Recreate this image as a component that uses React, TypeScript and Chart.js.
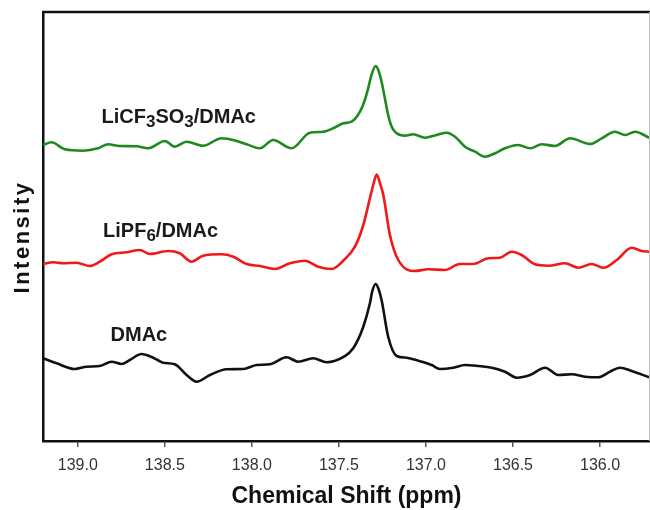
import React, { useEffect, useRef } from 'react';
import { Chart, registerables } from 'chart.js';

Chart.register(...registerables);

// ---- Data (chemical shift in ppm, intensity in arbitrary units) ----
const dmacPpm = [139.199, 139.122, 139.017, 138.95, 138.874, 138.806, 138.749, 138.701, 138.634, 138.567, 138.51, 138.443, 138.375, 138.318, 138.241, 138.145, 138.05, 137.973, 137.897, 137.801, 137.734, 137.648, 137.571, 137.471, 137.418, 137.36, 137.322, 137.309, 137.289, 137.274, 137.255, 137.217, 137.168, 137.111, 137.044, 136.967, 136.92, 136.843, 136.776, 136.699, 136.622, 136.546, 136.479, 136.402, 136.316, 136.24, 136.163, 136.086, 136.01, 135.943, 135.885, 135.818, 135.718];
const dmacInt = [82.7, 77.7, 72, 74.3, 75, 79.3, 77, 81, 87, 83.3, 78.3, 76.7, 66, 59.3, 66, 71.7, 72, 76, 76.7, 83.7, 79.3, 82.7, 78.7, 84.3, 92.7, 114.3, 137.7, 149.3, 157, 152.7, 141, 104.3, 85, 83.3, 80.3, 76, 72, 73.3, 76, 75, 73.3, 69.3, 63.3, 66, 73.3, 66, 66.7, 64.3, 63.7, 69.3, 73.3, 70, 63.7];

const lipf6Ppm = [139.199, 139.142, 139.084, 139.007, 138.931, 138.874, 138.806, 138.72, 138.644, 138.586, 138.481, 138.414, 138.347, 138.28, 138.174, 138.107, 138.03, 137.954, 137.868, 137.782, 137.695, 137.619, 137.542, 137.471, 137.408, 137.36, 137.322, 137.303, 137.283, 137.264, 137.245, 137.207, 137.159, 137.063, 136.987, 136.891, 136.805, 136.728, 136.642, 136.575, 136.507, 136.45, 136.374, 136.297, 136.201, 136.125, 136.048, 135.981, 135.904, 135.818, 135.76, 135.718];
const lipf6Int = [177, 178.7, 177.7, 178.3, 175, 179.3, 186.7, 188.7, 191, 187, 190, 187.7, 179.3, 185.3, 186.7, 184.3, 177, 175, 172, 177.7, 180.3, 174.3, 172, 181, 194.3, 216, 242.7, 256, 266.5, 257.7, 246, 206, 181, 170, 171.7, 171, 177, 177, 182.7, 183.3, 189.3, 186, 176.7, 175.3, 177.7, 173.3, 177, 173.3, 181, 193.3, 190, 189.3];

const licfPpm = [139.199, 139.151, 139.075, 138.97, 138.883, 138.826, 138.759, 138.663, 138.596, 138.5, 138.443, 138.375, 138.28, 138.174, 138.088, 138.03, 137.954, 137.878, 137.772, 137.667, 137.59, 137.533, 137.475, 137.427, 137.379, 137.351, 137.332, 137.313, 137.289, 137.274, 137.255, 137.236, 137.217, 137.197, 137.168, 137.121, 137.073, 137.006, 136.939, 136.881, 136.833, 136.776, 136.718, 136.661, 136.603, 136.546, 136.47, 136.402, 136.335, 136.259, 136.172, 136.057, 135.99, 135.914, 135.856, 135.799, 135.718];
const licfInt = [296, 298.7, 291.7, 290.3, 292.7, 296.7, 295, 294.7, 292.7, 300, 294.3, 299.3, 295.3, 302.7, 300, 296.7, 292.7, 301, 292.7, 308.3, 309.3, 312.7, 317.7, 319.3, 329.3, 341, 352.7, 366, 375, 371, 359.3, 342.7, 326, 314.3, 307.7, 305.3, 306.7, 303.3, 306, 308.3, 304.3, 294.3, 289.3, 284.3, 287.7, 292.7, 296, 292.7, 296.7, 295, 302.7, 297, 302.7, 309.3, 306, 309.3, 303.3];

const seriesNames = ['DMAc', 'LiPF6/DMAc', 'LiCF3SO3/DMAc'];
const seriesColors = ['#111111', '#f01818', '#1e8a1e'];

// Curve labels ("_" marks a subscript digit), anchored at (ppm, intensity)
const labelTexts = ['LiCF_3SO_3/DMAc', 'LiPF_6/DMAc', 'DMAc'];
const labelPpm = [138.864, 138.855, 138.812];
const labelInt = [318, 204.3, 100.3];

const xTickValues = [139.0, 138.5, 138.0, 137.5, 137.0, 136.5, 136.0];
const xMin = 135.713;
const xMax = 139.2;
const yMin = 0;
const yMax = 429;

const FONT = '"Liberation Sans", Arial, Helvetica, sans-serif';

const toXY = (xs: number[], ys: number[]) => xs.map((v, i) => ({ x: v, y: ys[i] }));

const decorPlugin = {
  id: 'decor',
  afterDatasetsDraw(chart: any) {
    const { ctx, scales } = chart;
    const xs = scales.x;
    const ys = scales.y;
    ctx.save();
    ctx.fillStyle = '#1a1a1a';
    ctx.textBaseline = 'alphabetic';
    ctx.textAlign = 'left';
    labelTexts.forEach((txt, i) => {
      let px = xs.getPixelForValue(labelPpm[i]);
      const py = ys.getPixelForValue(labelInt[i]);
      let j = 0;
      while (j < txt.length) {
        if (txt[j] === '_') {
          const ch = txt[j + 1];
          ctx.font = `bold 17px ${FONT}`;
          ctx.fillText(ch, px, py + 4);
          px += ctx.measureText(ch).width;
          j += 2;
        } else {
          let k = j;
          while (k < txt.length && txt[k] !== '_') k++;
          const part = txt.slice(j, k);
          ctx.font = `bold 20px ${FONT}`;
          ctx.fillText(part, px, py);
          px += ctx.measureText(part).width;
          j = k;
        }
      }
    });
    ctx.restore();
  },
  afterDraw(chart: any) {
    const { ctx, chartArea } = chart;
    ctx.save();
    // top frame line
    ctx.strokeStyle = '#111';
    ctx.lineWidth = 2.5;
    ctx.beginPath();
    ctx.moveTo(chartArea.left - 1, chartArea.top);
    ctx.lineTo(chartArea.right, chartArea.top);
    ctx.stroke();
    // faint right edge
    ctx.strokeStyle = '#bbbbbb';
    ctx.lineWidth = 1;
    ctx.beginPath();
    ctx.moveTo(chartArea.right - 0.5, chartArea.top);
    ctx.lineTo(chartArea.right - 0.5, chartArea.bottom);
    ctx.stroke();
    // y-axis title
    ctx.translate(23, 237);
    ctx.rotate(-Math.PI / 2);
    ctx.fillStyle = '#111';
    ctx.font = `bold 22px ${FONT}`;
    (ctx as any).letterSpacing = '2.5px';
    ctx.textAlign = 'center';
    ctx.textBaseline = 'middle';
    ctx.fillText('Intensity', 0, 0);
    ctx.restore();
  },
};

export default function App() {
  const canvasRef = useRef<HTMLCanvasElement | null>(null);

  useEffect(() => {
    if (!canvasRef.current) return;
    const chart = new Chart(canvasRef.current, {
      type: 'line',
      data: {
        datasets: [
          { label: seriesNames[0], data: toXY(dmacPpm, dmacInt), borderColor: seriesColors[0] },
          { label: seriesNames[1], data: toXY(lipf6Ppm, lipf6Int), borderColor: seriesColors[1] },
          { label: seriesNames[2], data: toXY(licfPpm, licfInt), borderColor: seriesColors[2] },
        ].map((d) => ({
          ...d,
          borderWidth: 2.6,
          pointRadius: 0,
          fill: false,
          cubicInterpolationMode: 'monotone' as const,
        })),
      },
      options: {
        responsive: false,
        animation: false,
        layout: { padding: { top: 12, right: 0, left: 0, bottom: 0 } },
        plugins: {
          legend: { display: false },
          tooltip: { enabled: false },
        },
        scales: {
          x: {
            type: 'linear',
            reverse: true,
            min: xMin,
            max: xMax,
            afterBuildTicks: (scale: any) => {
              scale.ticks = xTickValues.map((v) => ({ value: v }));
            },
            afterFit: (scale: any) => {
              scale.height = 69;
            },
            ticks: {
              color: '#333',
              font: { family: FONT, size: 16 },
              padding: 9,
              maxRotation: 0,
              autoSkip: false,
              callback: (v: any) => Number(v).toFixed(1),
            },
            grid: {
              display: true,
              drawOnChartArea: false,
              drawTicks: true,
              tickLength: 6,
              color: '#555',
              lineWidth: 1.5,
            },
            border: { display: true, color: '#111', width: 2.5 },
            title: {
              display: true,
              text: 'Chemical Shift (ppm)',
              color: '#111',
              font: { family: FONT, size: 23, weight: 'bold' },
              padding: { top: 0, bottom: 0 },
            },
          },
          y: {
            type: 'linear',
            min: yMin,
            max: yMax,
            afterFit: (scale: any) => {
              scale.width = 43;
            },
            ticks: { display: false },
            grid: { display: true, drawOnChartArea: false, drawTicks: false },
            border: { display: true, color: '#111', width: 2.5 },
            title: { display: false },
          },
        },
      },
      plugins: [decorPlugin],
    });
    return () => chart.destroy();
  }, []);

  return (
    <div style={{ position: 'fixed', left: 0, top: 0, width: 650, height: 510, background: '#fff' }}>
      <canvas ref={canvasRef} width={650} height={510} style={{ width: 650, height: 510, display: 'block' }} />
    </div>
  );
}
